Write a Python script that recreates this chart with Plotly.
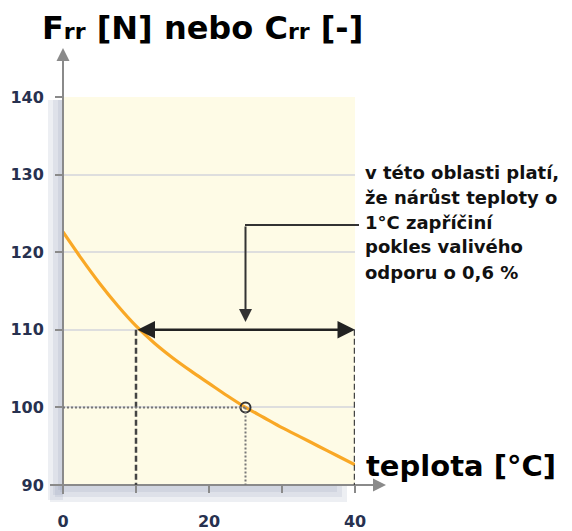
import plotly.graph_objects as go

# ---- data ----
temperature = [0, 2.5, 5, 7.5, 10, 12.5, 15, 17.5, 20, 22.5, 25, 27.5, 30, 32.5, 35, 37.5, 40]
rolling_resistance = [122.6, 119.2, 116.0, 113.1, 110.5, 108.3, 106.4, 104.7, 103.1, 101.5, 100.0,
                      98.7, 97.4, 96.2, 95.0, 93.8, 92.6]

y_tick_values = [90, 100, 110, 120, 130, 140]
x_tick_values = [0, 10, 20, 30, 40]
x_tick_labels = ["0", "", "20", "", "40"]

region_start = 10
region_end = 40
region_level = 110
reference_temp = 25
reference_value = 100
connector_level = 123.5

note_lines = ["v této oblasti platí,", "že nárůst teploty o", "1°C zapříčiní",
              "pokles valivého", "odporu o 0,6 %"]
title_text = "F<span style='font-size:22px'>rr</span> [N] nebo C<span style='font-size:22px'>rr</span> [-]"
x_title_text = "teplota [°C]"

# ---- layout helpers (page pixel -> paper); page body has an 8px margin ----
OFF = 8
FIG_W, FIG_H = 572 - 2 * OFF, 531 - OFF
L, R, T, B = 63, 355, 97, 485
W, H = R - L, B - T


def px(x):
    return (x - L) / W


def py(y):
    return (B - y) / H


FONT = "DejaVu Sans"
TICK_COLOR = "#27314f"
AXIS_COLOR = "#8a8a8a"

fig = go.Figure()

# main curve
fig.add_trace(go.Scatter(
    x=temperature, y=rolling_resistance, mode="lines",
    line=dict(color="#f9a826", width=3.2, shape="spline", smoothing=0.8),
    hoverinfo="skip", showlegend=False,
))

# reference point
fig.add_trace(go.Scatter(
    x=[reference_temp], y=[reference_value], mode="markers",
    marker=dict(symbol="circle-open", size=10, color="#333333", line=dict(width=2)),
    hoverinfo="skip", showlegend=False, cliponaxis=False,
))

shapes = []
# shadows (gradient by stacking)
for i, a in enumerate([0.16, 0.16, 0.16]):
    off = 5 * i
    shapes.append(dict(type="rect", xref="paper", yref="paper",
                       x0=px(48 + off), x1=px(63), y0=py(100), y1=py(500 - off),
                       fillcolor=f"rgba(140,155,178,{a})", line=dict(width=0), layer="below"))
    shapes.append(dict(type="rect", xref="paper", yref="paper",
                       x0=px(50 + off), x1=px(347 - off), y0=py(486), y1=py(502 - off),
                       fillcolor=f"rgba(140,155,178,{a})", line=dict(width=0), layer="below"))

# axis lines (drawn as shapes so they can extend past the plot area)
shapes.append(dict(type="line", xref="paper", yref="paper", x0=px(63), x1=px(63),
                   y0=py(494), y1=py(56), line=dict(color=AXIS_COLOR, width=2)))
shapes.append(dict(type="line", xref="paper", yref="paper", x0=px(50), x1=px(377),
                   y0=py(485), y1=py(485), line=dict(color=AXIS_COLOR, width=2)))

# connector (horizontal piece)
shapes.append(dict(type="line", xref="paper", yref="paper", x0=px(245), x1=px(359),
                   y0=py(225), y1=py(225), line=dict(color="#333333", width=2)))

# dashed verticals at region bounds
for xv in [region_start, region_end]:
    shapes.append(dict(type="line", xref="x", yref="y", x0=xv, x1=xv,
                       y0=region_level, y1=y_tick_values[0],
                       line=dict(color="#444444", width=2.5, dash="6px,3px")))
# dotted reference lines
shapes.append(dict(type="line", xref="x", yref="y", x0=0, x1=reference_temp,
                   y0=reference_value, y1=reference_value,
                   line=dict(color="#777777", width=2, dash="2px,2px")))
shapes.append(dict(type="line", xref="x", yref="y", x0=reference_temp, x1=reference_temp,
                   y0=reference_value, y1=y_tick_values[0],
                   line=dict(color="#777777", width=2, dash="2px,2px")))

annotations = []
# axis arrow heads
annotations.append(dict(x=px(63), y=py(48), xref="paper", yref="paper", ax=0, ay=20,
                        text="", showarrow=True, arrowhead=2, arrowsize=1.3, arrowwidth=2,
                        arrowcolor=AXIS_COLOR))
annotations.append(dict(x=px(386), y=py(485), xref="paper", yref="paper", ax=-20, ay=0,
                        text="", showarrow=True, arrowhead=2, arrowsize=1.3, arrowwidth=2,
                        arrowcolor=AXIS_COLOR))
# double arrow for validity region
annotations.append(dict(x=region_end, y=region_level, xref="x", yref="y",
                        ax=region_start, ay=region_level, axref="x", ayref="y",
                        text="", showarrow=True, arrowhead=2, startarrowhead=2, arrowside="end+start",
                        arrowsize=1.4, startarrowsize=1.4, arrowwidth=2.5, arrowcolor="#222222"))
# connector (vertical piece with head)
annotations.append(dict(x=reference_temp, y=111.0, xref="x", yref="y",
                        ax=reference_temp, ay=connector_level, axref="x", ayref="y",
                        text="", showarrow=True, arrowhead=2, arrowsize=1.3, arrowwidth=2,
                        arrowcolor="#333333"))

# title
annotations.append(dict(x=px(40), y=py(28), xref="paper", yref="paper", xanchor="left",
                        yanchor="middle", text=title_text, showarrow=False,
                        font=dict(family=FONT, size=32, color="black", weight="bold")))
# x title
annotations.append(dict(x=px(364), y=py(466), xref="paper", yref="paper", xanchor="left",
                        yanchor="middle", text=x_title_text, showarrow=False,
                        font=dict(family=FONT, size=29, color="black", weight="bold")))
# note text
for i, line in enumerate(note_lines):
    annotations.append(dict(x=px(363), y=py(172 + 25 * i), xref="paper", yref="paper",
                            xanchor="left", yanchor="middle", text=line, showarrow=False,
                            font=dict(family=FONT, size=18, color="#111111", weight="bold")))

fig.update_layout(
    width=FIG_W, height=FIG_H,
    margin=dict(l=L - OFF, r=FIG_W - (R - OFF), t=T - OFF, b=FIG_H - (B - OFF), pad=0,
                autoexpand=False),
    paper_bgcolor="white", plot_bgcolor="#fefbe6",
    shapes=shapes, annotations=annotations,
    showlegend=False,
    xaxis=dict(range=[0, 40], tickvals=x_tick_values, ticktext=x_tick_labels,
               showgrid=False, zeroline=False, showline=False, automargin=False,
               ticks="outside", ticklen=7, tickwidth=2, tickcolor=AXIS_COLOR,
               ticklabelstandoff=15,
               tickfont=dict(family=FONT, size=16, color=TICK_COLOR, weight="bold"),
               fixedrange=True),
    yaxis=dict(range=[90, 140], tickvals=y_tick_values,
               showgrid=True, gridcolor="#dedede", gridwidth=2, zeroline=False, showline=False,
               automargin=False,
               ticks="outside", ticklen=7, tickwidth=2, tickcolor=AXIS_COLOR,
               ticklabelstandoff=8,
               tickfont=dict(family=FONT, size=16, color=TICK_COLOR, weight="bold"),
               fixedrange=True),
)

fig.write_html("out.html")
